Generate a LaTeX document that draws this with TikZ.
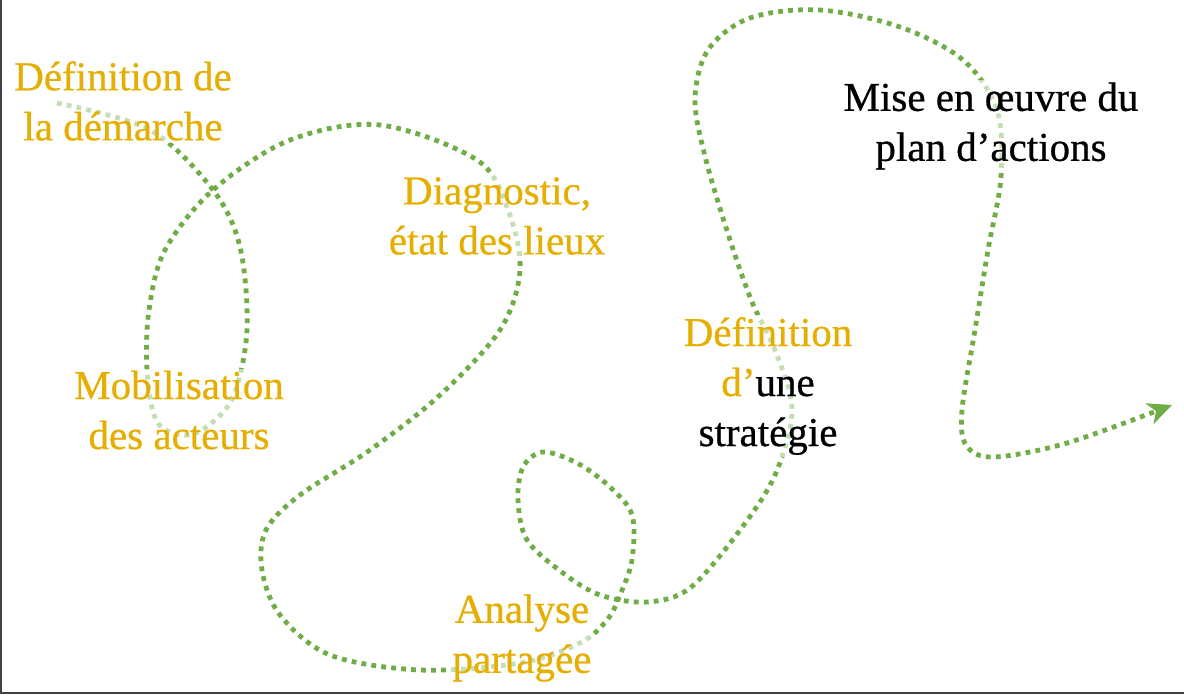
\documentclass[tikz,border=0pt]{standalone}
\usepackage{fontspec}
\setmainfont{Liberation Serif}
\newfontfamily\stagefont[FakeBold=0.6]{Liberation Serif}
\usepackage{xcolor}
\usetikzlibrary{arrows.meta,positioning}
\definecolor{leafgreen}{RGB}{112,173,71}
\definecolor{gold}{RGB}{230,174,0}
\tikzset{%
	trail/.style  = {leafgreen, line width=2.4pt, dash pattern=on 2.4pt off 2.6pt, -{Stealth[length=12pt,width=11pt,inset=3.5pt]}}, % Chemin
	stage/.style  = {align=center, font=\stagefont\fontsize{20.5}{25}\selectfont, fill=white, fill opacity=0.6, text opacity=1, inner sep=1pt}, % Etape
	golden/.style = {stage, text=gold}, % Etape en or
	frame/.style  = {draw=black!75, line width=1.2pt}, % Cadre
}
\begin{document}
\begin{tikzpicture}[x=0.5pt, y=-0.5pt]
	\useasboundingbox (0,0) rectangle (1184,696);
	\draw[frame] (1,0) -- (1,693) -- (1184,693);
	
	% le chemin
	\draw[trail] plot[smooth, tension=0.55] coordinates {
		(57,103) (150,130) (213,190) (240,247) (247,330) (233,397) (205,428) (180,435)
		(156,420) (147,370) (149,310) (165,250) (213,190) (290,140) (380,125) (477,160)
		(508,210) (520,270) (500,330) (440,395) (370,450) (300,495) (266,530) (262,570)
		(280,615) (330,655) (420,670) (520,663) (580,643) (607,620) (620,595) (632,560)
		(632,515) (610,487) (577,463) (543,452) (523,467) (518,500) (527,540) (563,573)
		(600,595) (647,602) (690,588) (740,530) (775,475) (792,410) (775,350) (752,302)
		(730,240) (706,160) (695,100) (708,50) (750,18) (820,10) (900,27) (963,60)
		(997,110) (1001,177) (988,250) (975,330) (962,410) (966,445) (993,457) (1067,443)
		(1172,405)};
	
	% les etapes
	\node[golden] (def) at (123,101) {Définition de\\la démarche};
	\node[golden] (mob) at (179,410) {Mobilisation\\des acteurs};
	\node[golden] (diag) at (497,216) {Diagnostic,\\état des lieux};
	\node[golden] (ana) at (522,638) {Analyse\\partagée};
	\node[stage] (strat) at (768,386) {\textcolor{gold}{Définition}\\\textcolor{gold}{d’}une\\stratégie};
	\node[stage] (plan) at (991,126) {Mise en œuvre du\\plan d’actions};
\end{tikzpicture}
\end{document}
